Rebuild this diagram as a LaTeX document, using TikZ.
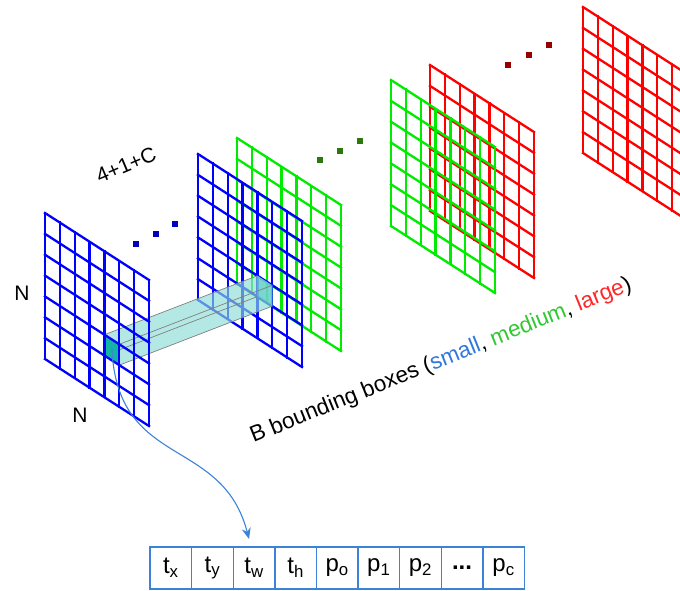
\documentclass[tikz,border=0pt]{standalone}
\usepackage{fontspec}
\setmainfont{Liberation Sans}
\usetikzlibrary{positioning,arrows.meta}
\definecolor{mapblue}{RGB}{0,0,255}
\definecolor{mapgreen}{RGB}{0,235,0}
\definecolor{mapred}{RGB}{255,0,0}
\definecolor{dotblue}{RGB}{0,0,190}
\definecolor{dotgreen}{RGB}{45,120,10}
\definecolor{dotred}{RGB}{150,0,0}
\definecolor{tubecyan}{RGB}{140,220,215}
\definecolor{cellteal}{RGB}{20,180,165}
\definecolor{rowblue}{RGB}{60,130,215}
\definecolor{txtblue}{RGB}{50,120,220}
\definecolor{txtgreen}{RGB}{50,200,50}
\definecolor{txtred}{RGB}{255,40,40}

% one 7x7 feature map, #1 top-left corner, #2 colour
\newcommand{\fmap}[2]{%
  \begin{scope}[onmap={#1}]
    \foreach \k in {0,...,7} {
      \draw[gridline,#2] (\k,0) -- (\k,7);
      \draw[gridline,#2] (0,\k) -- (7,\k);
    }
  \end{scope}}

\begin{document}
\begin{tikzpicture}[
  x=1pt, y=-1pt,
  every node/.style={font=\fontsize{21}{24}\selectfont},
  onmap/.style={shift={#1}, x={(14.857pt,-9.571pt)}, y={(0pt,-20.857pt)}},
  gridline/.style={line width=2.3pt, line cap=rect},
  rowcell/.style={draw=rowblue, line width=1.4pt, minimum width=41.6pt, minimum height=42pt, inner sep=0pt, outer sep=0pt, font=\fontsize{24}{26}\selectfont},
  curvearrow/.style={-{Stealth[length=11pt,width=9pt]}, rowblue, line width=1.1pt}
]
  \clip (0,0) rectangle (680,591);

  % large boxes
  \fmap{(583,7)}{mapred}
  \foreach \p in {(508,65),(529,55),(549,45)}
    \fill[dotred] \p ++(-2.6,-2.6) rectangle ++(5.2,5.2);
  \fmap{(430,65)}{mapred}

  % medium boxes
  \fmap{(391,80)}{mapgreen}
  \foreach \p in {(320,160),(340,151),(360,141)}
    \fill[dotgreen] \p ++(-2.8,-2.8) rectangle ++(5.6,5.6);
  \fmap{(237,138)}{mapgreen}

  % small boxes
  \fmap{(198,154)}{mapblue}
  \begin{scope}[onmap={(198,154)}]
    \coordinate (b1) at (4,4); \coordinate (b2) at (5,4);
    \coordinate (b3) at (5,5); \coordinate (b4) at (4,5);
  \end{scope}
  \begin{scope}[onmap={(45,213)}]
    \coordinate (a1) at (4,4); \coordinate (a2) at (5,4);
    \coordinate (a3) at (5,5); \coordinate (a4) at (4,5);
    \coordinate (cellA) at (4.5,4.4);
  \end{scope}
  \fill[cellteal, opacity=0.7] (b1) -- (b2) -- (b3) -- (b4) -- cycle;
  \fill[tubecyan, opacity=0.65] (a1) -- (b1) -- (b2) -- (b3) -- (a3) -- (a4) -- cycle;
  \draw[gray, line width=0.7pt] (a1) -- (b1) (a2) -- (b2) (a3) -- (b3) (a4) -- (b4);
  \fill[cellteal] (a1) -- (a2) -- (a3) -- (a4) -- cycle;
  \fmap{(45,213)}{mapblue}
  \foreach \p in {(136,244),(156,234),(175,224)}
    \fill[dotblue] \p ++(-2.6,-2.6) rectangle ++(5.2,5.2);

  % labels
  \node (nleft) at (22,293) {N};
  \node (nbottom) at (80,415) {N};
  \node[rotate=23, font=\fontsize{21}{24}\selectfont] (depth) at (126,165) {4+1+C};
  \node[rotate=22, font=\fontsize{22.5}{26}\selectfont] (boxes) at (441,361) {B bounding boxes (\textcolor{txtblue}{small}, \textcolor{txtgreen}{medium}, \textcolor{txtred}{large})};

  % prediction vector
  \node[rowcell] (tx) at (170.8,568) {t\textsubscript{x}};
  \node[rowcell, right=0pt of tx] (ty) {t\textsubscript{y}};
  \node[rowcell, right=0pt of ty] (tw) {t\textsubscript{w}};
  \node[rowcell, right=0pt of tw] (th) {t\textsubscript{h}};
  \node[rowcell, right=0pt of th] (po) {p\textsubscript{o}};
  \node[rowcell, right=0pt of po] (p1) {p\textsubscript{1}};
  \node[rowcell, right=0pt of p1] (p2) {p\textsubscript{2}};
  \node[rowcell, right=0pt of p2] (pdots) {\textbf{...}};
  \node[rowcell, right=0pt of pdots] (pc) {p\textsubscript{c}};

  \draw[curvearrow] (cellA) .. controls (117,470) and (222,435) .. ([shift={(-5,-8)}]tw.north);
\end{tikzpicture}
\end{document}
